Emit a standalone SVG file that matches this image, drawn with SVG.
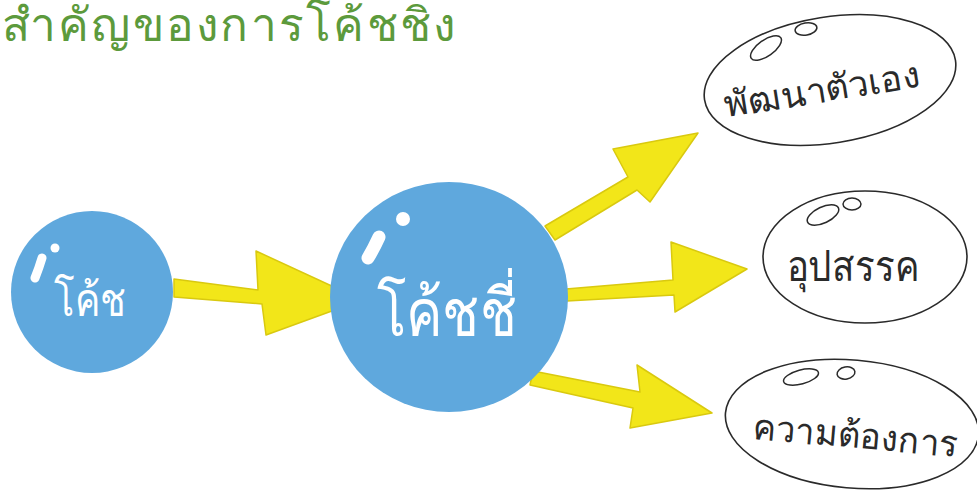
<svg xmlns="http://www.w3.org/2000/svg" width="977" height="495" viewBox="0 0 977 495">
<style>
.bubble{fill:#5fa8dd}
.hl{fill:#ffffff}
.hls{fill:none;stroke:#ffffff;stroke-linecap:round}
.arrow{fill:#f2e619;stroke:#d9c90f;stroke-width:1.5;stroke-linejoin:round}
.oval{fill:#ffffff;stroke:#2a2a2a;stroke-width:1.6}
.small{fill:none;stroke:#2a2a2a;stroke-width:1.5}
.wt{font-family:"Noto Sans","DejaVu Sans",sans-serif;fill:#ffffff;text-anchor:middle}
.bt{font-family:"Noto Sans","DejaVu Sans",sans-serif;fill:#2a2a2a;text-anchor:middle}
.title{font-family:"Noto Sans","DejaVu Sans",sans-serif;fill:#5c9a3c;font-size:46px}
</style>
<text class="title" x="2" y="41" textLength="453" lengthAdjust="spacing">สำคัญของการโค้ชชิ่ง</text>
<g id="connectors">
<path class="arrow" d="M174,279 L258,290 L256,251 L362,300 L266,335 L262,304 L174,297 Z"/>
<path class="arrow" d="M545,226 L628,177 L613,149 L698,133 L650,202 L637,190 L555,240 Z"/>
<path class="arrow" d="M566,289 L673,280 L671,242 L747,269 L675,312 L674,295 L567,301 Z"/>
<path class="arrow" d="M533,371 L640,392 L637,365 L712,413 L630,428 L633,408 L530,385 Z"/>
</g>
<g id="node-coach">
<circle class="bubble" cx="92" cy="292" r="81"/>
<path class="hls" d="M42,258 Q39,268 35,278" stroke-width="9"/>
<circle class="hl" cx="55" cy="248" r="4.5"/>
<text class="wt" x="90" y="316" font-size="46" textLength="72" lengthAdjust="spacingAndGlyphs">โค้ช</text>
</g>
<g id="node-coachee">
<ellipse class="bubble" cx="449" cy="297" rx="119" ry="115"/>
<path class="hls" d="M379,237 Q374,248 368,258" stroke-width="13"/>
<circle class="hl" cx="403" cy="219" r="7"/>
<text class="wt" x="447" y="336" font-size="66" textLength="140" lengthAdjust="spacingAndGlyphs">โค้ชชี่</text>
</g>
<g id="node-develop">
<ellipse class="oval" cx="830" cy="80" rx="127" ry="63" transform="rotate(-9 830 80)"/>
<ellipse class="small" cx="766" cy="48" rx="18" ry="8" transform="rotate(-35 766 48)"/>
<ellipse class="small" cx="806" cy="29" rx="11" ry="6" transform="rotate(-10 806 29)"/>
<text class="bt" x="824" y="102" font-size="36" textLength="198" lengthAdjust="spacingAndGlyphs" transform="rotate(-9 824 102)">พัฒนาตัวเอง</text>
</g>
<g id="node-obstacle">
<ellipse class="oval" cx="865" cy="257" rx="102" ry="66"/>
<ellipse class="small" cx="823" cy="215" rx="17" ry="8" transform="rotate(-25 823 215)"/>
<ellipse class="small" cx="852" cy="204" rx="9" ry="6"/>
<text class="bt" x="853" y="281" font-size="42" textLength="133" lengthAdjust="spacingAndGlyphs">อุปสรรค</text>
</g>
<g id="node-needs">
<ellipse class="oval" cx="852" cy="424" rx="127" ry="64" transform="rotate(5 852 424)"/>
<ellipse class="small" cx="801" cy="377" rx="18" ry="7" transform="rotate(-15 801 377)"/>
<ellipse class="small" cx="846" cy="373" rx="9" ry="6" transform="rotate(-10 846 373)"/>
<text class="bt" x="854" y="448" font-size="36" textLength="205" lengthAdjust="spacingAndGlyphs" transform="rotate(5 854 448)">ความต้องการ</text>
</g>
</svg>
